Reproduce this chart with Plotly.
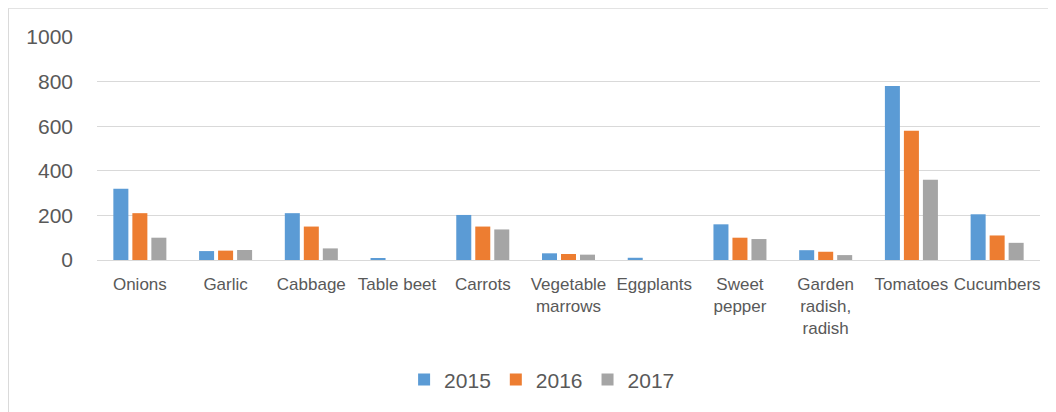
import plotly.graph_objects as go

categories = ["Onions", "Garlic", "Cabbage", "Table beet", "Carrots",
              "Vegetable<br>marrows", "Eggplants", "Sweet<br>pepper",
              "Garden<br>radish,<br>radish", "Tomatoes", "Cucumbers"]
years = ["2015", "2016", "2017"]
v2015 = [320, 40, 210, 8, 202, 30, 10, 160, 44, 780, 205]
v2016 = [210, 42, 150, 0, 150, 27, 0, 100, 37, 580, 110]
v2017 = [100, 45, 52, 0, 137, 24, 0, 94, 22, 360, 77]
colors = ["#5B9BD5", "#ED7D31", "#A5A5A5"]

fig = go.Figure()
for name, vals, c in zip(years, [v2015, v2016, v2017], colors):
    fig.add_trace(go.Bar(x=categories, y=vals, name=name,
                         marker=dict(color=c, line=dict(width=0))))

W, H = 1048, 404
L, R, T, B = 89, 16, 29, 152
pw, ph = W - L - R, H - T - B

font_family = "Liberation Sans, Arial, sans-serif"
fig.update_layout(
    width=W, height=H,
    margin=dict(l=L, r=R, t=T, b=B),
    paper_bgcolor="white", plot_bgcolor="white",
    barmode="group", bargap=0.335, bargroupgap=0.21,
    font=dict(family=font_family, color="#595959"),
    showlegend=True,
    legend=dict(orientation="h", x=0.472, xanchor="center", y=-0.538,
                yanchor="middle", font=dict(size=21, color="#595959"),
                itemwidth=30, traceorder="normal"),
    xaxis=dict(showgrid=False, showline=False, ticks="", ticklabelstandoff=12,
               tickfont=dict(size=17, color="#595959"), tickangle=0),
    yaxis=dict(range=[0, 1000], dtick=200, showgrid=True, gridcolor="#D9D9D9",
               gridwidth=1, zeroline=True, zerolinecolor="#D9D9D9", zerolinewidth=1,
               showline=False, ticks="", ticklabelstandoff=23,
               tickfont=dict(size=21, color="#595959")),
    shapes=[dict(type="rect", xref="paper", yref="paper",
                 x0=-L / pw + 0.0005, x1=1.2, y0=-1.0, y1=(ph + T) / ph - 0.001,
                 line=dict(color="#D9D9D9", width=1), fillcolor="rgba(0,0,0,0)",
                 layer="below")],
)
fig.write_html("out.html")
